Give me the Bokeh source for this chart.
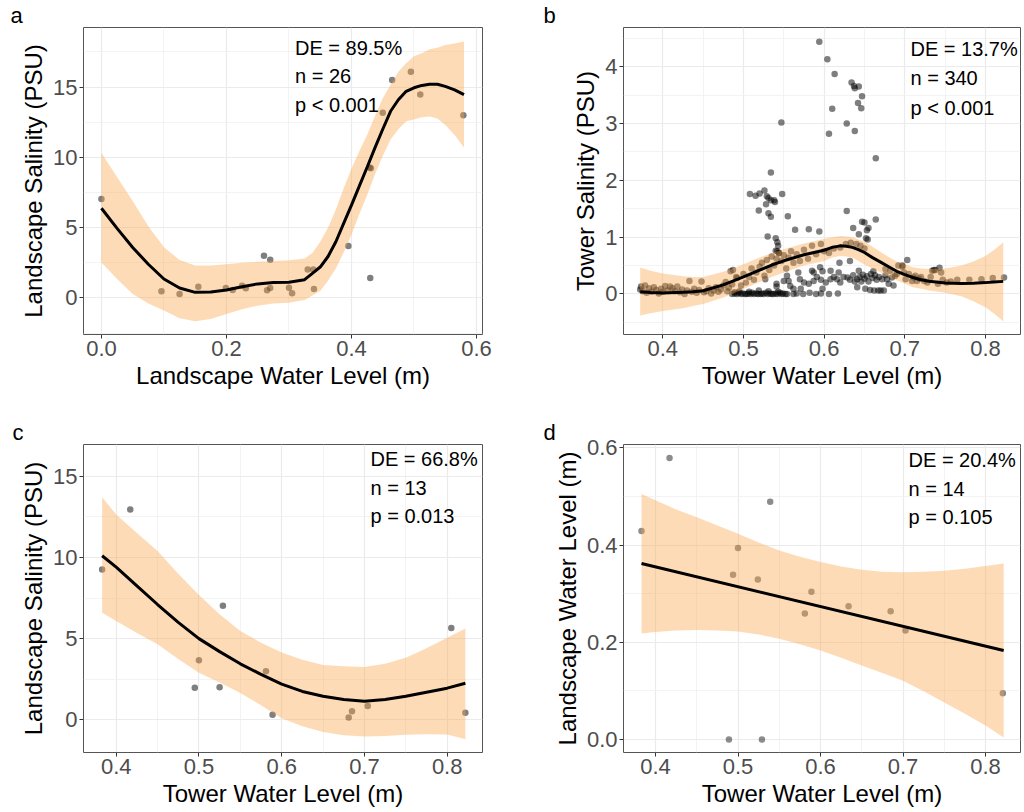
from bokeh.plotting import figure
from bokeh.layouts import gridplot
from bokeh.models import Range1d, FixedTicker, PrintfTickFormatter, Label
from bokeh.embed import file_html
from bokeh.resources import INLINE

FONT = "Liberation Sans"

# ---------------- Panel a ----------------
land_wl_a = [0.0, 0.096, 0.125, 0.155, 0.199, 0.210, 0.225, 0.231, 0.260, 0.265, 0.270, 0.270, 0.300,
             0.305, 0.330, 0.339, 0.340, 0.395, 0.429, 0.431, 0.430, 0.450, 0.465, 0.495, 0.510, 0.579]
land_sal_a = [7.04, 0.47, 0.28, 0.80, 0.71, 0.57, 0.87, 0.69, 3.00, 0.54, 2.72, 0.71, 0.73,
              0.33, 2.03, 2.03, 0.64, 3.69, 9.28, 9.22, 1.42, 13.18, 15.50, 16.09, 14.48, 12.99]
fit_x_a = [0.0, 0.025, 0.05, 0.075, 0.1, 0.125, 0.15, 0.175, 0.2, 0.225, 0.25, 0.275, 0.3, 0.325,
           0.3375, 0.35, 0.3625, 0.375, 0.3875, 0.4, 0.4125, 0.425, 0.4375, 0.45, 0.4625, 0.475,
           0.4875, 0.5, 0.5125, 0.525, 0.5375, 0.55, 0.565, 0.58]
fit_a = [6.38, 4.95, 3.59, 2.40, 1.35, 0.71, 0.40, 0.42, 0.57, 0.80, 1.00, 1.10, 1.11, 1.30,
         1.75, 2.20, 2.95, 4.00, 5.30, 6.60, 7.96, 9.30, 10.68, 12.0, 13.28, 14.1,
         14.7, 14.95, 15.12, 15.2, 15.2, 15.05, 14.8, 14.46]
upper_a = [10.32, 8.6, 6.9, 5.1, 3.6, 2.7, 2.3, 2.3, 2.4, 2.5, 2.57, 2.62, 2.69, 2.8,
           3.2, 4.0, 5.0, 6.3, 7.8, 9.2, 10.44, 11.6, 12.92, 14.2, 15.17, 16.1,
           16.7, 17.2, 17.4, 17.7, 17.8, 18.0, 18.1, 18.24]
lower_a = [2.53, 1.35, 0.28, -0.40, -0.9, -1.45, -1.65, -1.5, -1.15, -0.8, -0.55, -0.4, -0.35, -0.15,
           0.17, 0.5, 1.23, 2.1, 3.24, 4.5, 5.95, 7.3, 8.79, 10.1, 11.27, 12.0,
           12.57, 12.7, 12.85, 12.9, 12.76, 12.3, 11.6, 10.7]

# ---------------- Panel b ----------------
tower_wl_b = [
    0.372, 0.373, 0.375, 0.378, 0.380, 0.383, 0.386, 0.389, 0.392, 0.395, 0.398, 0.400, 0.403, 0.406, 0.409,
    0.412, 0.415, 0.418, 0.421, 0.424, 0.427, 0.430, 0.433, 0.436, 0.439, 0.442, 0.445, 0.448, 0.451, 0.454,
    0.457, 0.460, 0.463, 0.466, 0.469, 0.472, 0.475, 0.478, 0.480, 0.482, 0.484, 0.487, 0.486, 0.489, 0.491,
    0.486, 0.489, 0.492, 0.494, 0.497, 0.499, 0.502, 0.504, 0.506, 0.509, 0.511, 0.513, 0.516, 0.518, 0.521,
    0.523, 0.525, 0.528, 0.530, 0.533, 0.535, 0.537, 0.540, 0.542, 0.545, 0.547, 0.549, 0.552, 0.554,
    0.495, 0.507, 0.519, 0.531, 0.543,
    0.562, 0.566, 0.574, 0.582, 0.590, 0.596, 0.606, 0.617,
    0.492, 0.497, 0.500, 0.503, 0.507, 0.510, 0.513, 0.516, 0.520, 0.523, 0.526, 0.529, 0.532, 0.535, 0.538,
    0.541, 0.544, 0.547, 0.550, 0.553, 0.556, 0.559, 0.562, 0.566, 0.570, 0.575, 0.580, 0.585, 0.590, 0.596,
    0.600, 0.606, 0.612, 0.620, 0.627, 0.633, 0.640, 0.645, 0.650,
    0.508, 0.515, 0.520, 0.526, 0.529, 0.531, 0.534, 0.538, 0.539, 0.534, 0.548, 0.528, 0.519, 0.531, 0.534,
    0.555, 0.547,
    0.530, 0.540, 0.542, 0.543, 0.540, 0.542, 0.544,
    0.594, 0.604, 0.613, 0.610, 0.606, 0.628, 0.638, 0.634, 0.637, 0.638, 0.643, 0.647, 0.642, 0.646, 0.664,
    0.564, 0.581, 0.594, 0.628, 0.636, 0.643, 0.647, 0.650, 0.653, 0.655, 0.652, 0.654, 0.664, 0.619,
    0.527, 0.541, 0.541, 0.550, 0.554, 0.556, 0.558, 0.562, 0.568, 0.570, 0.571, 0.575, 0.581, 0.585, 0.587,
    0.587, 0.591, 0.595, 0.596, 0.598, 0.602, 0.608, 0.608, 0.612, 0.616, 0.618, 0.620, 0.624, 0.629, 0.632,
    0.636, 0.638, 0.641, 0.641, 0.644, 0.646, 0.648, 0.650, 0.651, 0.653, 0.655, 0.657, 0.658, 0.660, 0.662,
    0.663, 0.665, 0.667, 0.668, 0.670, 0.672, 0.674, 0.676, 0.678, 0.680, 0.684, 0.686, 0.688, 0.643, 0.661,
    0.632, 0.598,
    0.676, 0.682, 0.690, 0.692, 0.697, 0.697, 0.699, 0.701, 0.703, 0.705, 0.709, 0.711, 0.713, 0.715, 0.718,
    0.720, 0.724, 0.728, 0.732, 0.734, 0.736, 0.738, 0.741, 0.743, 0.745, 0.747, 0.752, 0.765, 0.780, 0.795,
    0.809, 0.823, 0.757,
]
tower_sal_b = [
    0.08, 0.13, 0.05, 0.15, 0.02, 0.10, 0.04, 0.12, 0.07, 0.01, 0.09, 0.04, 0.14, 0.06, 0.13,
    0.10, 0.05, 0.13, 0.03, 0.08, 0.00, 0.06, 0.23, 0.04, 0.09, 0.02, 0.07, 0.22, 0.03, 0.05,
    0.10, 0.01, 0.06, 0.12, 0.04, 0.08, 0.15, 0.21, 0.05, 0.11, 0.40, 0.42, 0.17, 0.03, 0.30,
    0.00, 0.01, 0.00, 0.02, 0.00, 0.01, 0.00, 0.00, 0.01, 0.00, 0.02, 0.00, 0.01, 0.00, 0.00,
    0.01, 0.00, 0.02, 0.00, 0.01, 0.00, 0.00, 0.01, 0.00, 0.02, 0.00, 0.01, 0.00, 0.00,
    0.05, 0.04, 0.06, 0.05, 0.04,
    0.00, 0.01, 0.00, 0.02, 0.00, 0.01, 0.00, 0.01,
    0.28, 0.15, 0.35, 0.20, 0.30, 0.45, 0.25, 0.38, 0.48, 0.55, 0.32, 0.60, 0.42, 0.66, 0.50,
    0.62, 0.72, 0.58, 0.68, 0.45, 0.64, 0.75, 0.55, 0.70, 0.58, 0.78, 0.62, 0.85, 0.70, 0.88,
    0.75, 0.72, 0.80, 0.82, 0.88, 0.90, 0.88, 0.85, 0.80,
    1.76, 1.73, 1.77, 1.82, 1.72, 1.69, 1.65, 1.65, 1.62, 2.14, 1.76, 1.58, 1.47, 1.42, 1.36,
    1.37, 3.02,
    1.01, 0.98, 0.91, 0.85, 0.76, 0.75, 0.72,
    4.44, 4.13, 3.87, 3.26, 2.82, 3.00, 2.87, 3.72, 3.66, 3.62, 3.65, 3.48, 3.36, 3.27, 2.39,
    1.13, 1.14, 1.10, 1.46, 1.16, 1.05, 1.27, 1.26, 1.12, 1.16, 0.98, 0.96, 1.31, 0.55,
    0.26, 0.18, 0.13, 0.23, 0.32, 0.23, 0.14, 0.09, 0.38, 0.26, 0.09, 0.20, 0.18, 0.41, 0.38,
    0.23, 0.30, 0.47, 0.25, 0.09, 0.20, 0.41, 0.26, 0.30, 0.26, 0.38, 0.20, 0.30, 0.29, 0.25,
    0.33, 0.22, 0.26, 0.12, 0.30, 0.22, 0.34, 0.27, 0.09, 0.31, 0.22, 0.07, 0.35, 0.28, 0.06,
    0.33, 0.25, 0.06, 0.30, 0.06, 0.26, 0.06, 0.33, 0.26, 0.18, 0.29, 0.15, 0.32, 0.41, 0.40,
    0.58, 0.40,
    0.44, 0.41, 0.35, 0.50, 0.48, 0.50, 0.38, 0.26, 0.60, 0.35, 0.23, 0.29, 0.32, 0.23, 0.27,
    0.30, 0.23, 0.20, 0.30, 0.41, 0.42, 0.42, 0.18, 0.46, 0.38, 0.25, 0.20, 0.25, 0.25, 0.26,
    0.28, 0.29, 0.22,
]
fit_x_b = [0.372, 0.385, 0.40, 0.425, 0.4375, 0.45, 0.475, 0.4875, 0.50, 0.52, 0.535, 0.55, 0.575,
           0.5875, 0.60, 0.61, 0.62, 0.6275, 0.635, 0.6425, 0.65, 0.66, 0.67, 0.68, 0.69, 0.70,
           0.71, 0.72, 0.73, 0.75, 0.77, 0.785, 0.80, 0.81, 0.822]
fit_b = [0.04, 0.025, 0.018, 0.03, 0.04, 0.058, 0.16, 0.23, 0.30, 0.42, 0.51, 0.584, 0.69,
         0.73, 0.77, 0.82, 0.847, 0.84, 0.82, 0.78, 0.73, 0.64, 0.56, 0.48, 0.40, 0.34,
         0.29, 0.25, 0.225, 0.195, 0.186, 0.19, 0.20, 0.21, 0.222]
upper_b = [0.467, 0.41, 0.36, 0.31, 0.30, 0.30, 0.39, 0.45, 0.525, 0.64, 0.72, 0.788, 0.89,
           0.93, 0.97, 1.0, 1.02, 1.01, 1.0, 0.96, 0.92, 0.83, 0.74, 0.65, 0.57, 0.52,
           0.47, 0.45, 0.44, 0.45, 0.50, 0.57, 0.67, 0.77, 0.905]
lower_b = [-0.38, -0.34, -0.30, -0.25, -0.21, -0.175, -0.06, 0.01, 0.088, 0.21, 0.30, 0.38, 0.50,
           0.54, 0.58, 0.64, 0.67, 0.66, 0.64, 0.58, 0.52, 0.45, 0.38, 0.31, 0.24, 0.18,
           0.12, 0.09, 0.06, 0.02, -0.04, -0.13, -0.235, -0.34, -0.48]

# ---------------- Panel c ----------------
tower_wl_c = [0.383, 0.417, 0.495, 0.500, 0.525, 0.529, 0.581, 0.589, 0.681, 0.685, 0.704, 0.805, 0.822]
land_sal_c = [9.26, 12.95, 1.97, 3.67, 2.01, 7.03, 2.99, 0.31, 0.14, 0.53, 0.86, 5.66, 0.43]
fit_x_c = [0.383, 0.40, 0.425, 0.45, 0.475, 0.50, 0.525, 0.55, 0.575, 0.60, 0.625, 0.65, 0.675,
           0.70, 0.725, 0.75, 0.775, 0.80, 0.822]
fit_c = [10.1, 9.4, 8.25, 7.1, 6.0, 5.0, 4.2, 3.45, 2.8, 2.2, 1.75, 1.45, 1.25,
         1.15, 1.25, 1.45, 1.7, 1.95, 2.25]
upper_c = [13.7, 12.64, 11.5, 10.4, 9.0, 7.68, 6.5, 5.47, 4.75, 4.14, 3.7, 3.38, 3.3,
           3.26, 3.45, 3.83, 4.4, 5.06, 5.63]
lower_c = [6.6, 6.09, 5.35, 4.65, 3.75, 2.9, 2.3, 1.65, 0.9, 0.1, -0.4, -0.75, -0.95,
           -1.02, -1.0, -0.92, -0.88, -0.9, -1.19]

# ---------------- Panel d ----------------
tower_wl_d = [0.383, 0.417, 0.489, 0.494, 0.500, 0.524, 0.529, 0.539, 0.581, 0.589, 0.634, 0.685, 0.703, 0.821]
land_wl_d = [0.429, 0.579, 0.0, 0.339, 0.394, 0.329, 0.0, 0.489, 0.259, 0.304, 0.274, 0.264, 0.224, 0.095]
fit_line_x_d = [0.383, 0.822]
fit_line_d = [0.362, 0.183]
band_x_d = [0.383, 0.40, 0.425, 0.45, 0.475, 0.50, 0.525, 0.55, 0.575, 0.60, 0.625, 0.65, 0.675,
            0.70, 0.725, 0.75, 0.775, 0.80, 0.822]
upper_d = [0.505, 0.492, 0.473, 0.457, 0.44, 0.423, 0.405, 0.389, 0.376, 0.365, 0.356, 0.349, 0.345,
           0.344, 0.345, 0.347, 0.351, 0.357, 0.362]
lower_d = [0.218, 0.221, 0.224, 0.225, 0.224, 0.222, 0.216, 0.207, 0.196, 0.183, 0.168, 0.152, 0.137,
           0.121, 0.099, 0.076, 0.053, 0.029, 0.004]

# annotations
stats_a = ["DE = 89.5%", "n = 26", "p < 0.001"]
stats_b = ["DE = 13.7%", "n = 340", "p < 0.001"]
stats_c = ["DE = 66.8%", "n = 13", "p = 0.013"]
stats_d = ["DE = 20.4%", "n = 14", "p = 0.105"]

RIBBON = "#F9A64A"


def panel(w, h, xr, yr, borders, xt, xm, yt, ym, xfmt, yfmt, xlab, ylab, tag, tag_offset):
    left, right, top, bottom = borders
    p = figure(width=w, height=h, x_range=Range1d(*xr), y_range=Range1d(*yr),
               output_backend="svg", toolbar_location=None,
               min_border_left=left, min_border_right=right,
               min_border_top=top, min_border_bottom=bottom)
    p.background_fill_color = "white"
    p.border_fill_color = "white"
    p.outline_line_color = "#555555"
    p.outline_line_width = 1
    p.title.text = tag
    p.title.text_font = FONT
    p.title.text_font_size = "22px"
    p.title.text_font_style = "normal"
    p.title.text_color = "black"
    p.title.align = "left"
    p.title.offset = tag_offset
    p.title.standoff = 0
    xtick = FixedTicker(ticks=xt, minor_ticks=xm)
    ytick = FixedTicker(ticks=yt, minor_ticks=ym)
    p.xaxis.ticker = xtick
    p.yaxis.ticker = ytick
    p.xgrid.ticker = xtick
    p.ygrid.ticker = ytick
    p.xaxis.formatter = PrintfTickFormatter(format=xfmt)
    p.yaxis.formatter = PrintfTickFormatter(format=yfmt)
    for g in (p.xgrid[0], p.ygrid[0]):
        g.grid_line_color = "#EBEBEB"
        g.grid_line_width = 1.2
        g.minor_grid_line_color = "#F0F0F0"
        g.minor_grid_line_width = 0.8
    for ax in (p.xaxis[0], p.yaxis[0]):
        ax.axis_line_color = None
        ax.major_tick_line_color = "#333333"
        ax.major_tick_out = 4
        ax.major_tick_in = 0
        ax.minor_tick_line_color = None
        ax.major_label_text_font = FONT
        ax.major_label_text_font_size = "22px"
        ax.major_label_text_color = "#4D4D4D"
        ax.axis_label_text_font = FONT
        ax.axis_label_text_font_size = "24px"
        ax.axis_label_text_color = "black"
        ax.axis_label_text_font_style = "normal"
        ax.major_label_standoff = 2
        ax.axis_label_standoff = 3
    p.xaxis.axis_label = xlab
    p.yaxis.axis_label = ylab
    return p


def layers(p, px, py, bx, up, lo, fx, fy, alpha=0.5):
    p.scatter(px, py, size=6.5, fill_color="black", fill_alpha=alpha, line_color=None)
    p.varea(x=bx, y1=lo, y2=up, fill_color=RIBBON, fill_alpha=0.4)
    p.line(fx, fy, line_color="black", line_width=3)


def stats(p, x, ys, texts):
    for y, t in zip(ys, texts):
        p.add_layout(Label(x=x, y=y, text=t, text_font=FONT, text_font_size="20px",
                           text_baseline="middle", text_align="left", text_color="black"))


pa = panel(540, 392, (-0.0287, 0.6096), (-2.6, 19.24), (83, 58, 26, 58),
           [0, 0.2, 0.4, 0.6], [0.1, 0.3, 0.5], [0, 5, 10, 15], [-2.5, 2.5, 7.5, 12.5, 17.5],
           "%.1f", "%d", "Landscape Water Level (m)", "Landscape Salinity (PSU)", "a", -73)
layers(pa, land_wl_a, land_sal_a, fit_x_a, upper_a, lower_a, fit_x_a, fit_a)
stats(pa, 0.3096, [17.77, 15.76, 13.71], stats_a)

pb = panel(484, 392, (0.3513, 0.8434), (-0.713, 4.69), (83, 4, 26, 58),
           [0.4, 0.5, 0.6, 0.7, 0.8], [0.35, 0.45, 0.55, 0.65, 0.75, 0.85],
           [0, 1, 2, 3, 4], [-0.5, 0.5, 1.5, 2.5, 3.5, 4.5],
           "%.1f", "%d", "Tower Water Level (m)", "Tower Salinity (PSU)", "b", -80)
layers(pb, tower_wl_b, tower_sal_b, fit_x_b, upper_b, lower_b, fit_x_b, fit_b)
stats(pb, 0.707, [4.303, 3.795, 3.281], stats_b)

pc = panel(540, 420, (0.3605, 0.8427), (-2.01, 16.95), (83, 58, 51, 60),
           [0.4, 0.5, 0.6, 0.7, 0.8], [0.45, 0.55, 0.65, 0.75],
           [0, 5, 10, 15], [-2.5, 2.5, 7.5, 12.5],
           "%.1f", "%d", "Tower Water Level (m)", "Landscape Salinity (PSU)", "c", -71)
layers(pc, tower_wl_c, land_sal_c, fit_x_c, upper_c, lower_c, fit_x_c, fit_c)
stats(pc, 0.7073, [16.06, 14.28, 12.54], stats_c)

pd = panel(484, 420, (0.3612, 0.8424), (-0.0268, 0.6068), (83, 4, 52, 60),
           [0.4, 0.5, 0.6, 0.7, 0.8], [0.45, 0.55, 0.65, 0.75],
           [0, 0.2, 0.4, 0.6], [0.1, 0.3, 0.5],
           "%.1f", "%.1f", "Tower Water Level (m)", "Landscape Water Level (m)", "d", -80)
layers(pd, tower_wl_d, land_wl_d, band_x_d, upper_d, lower_d, fit_line_x_d, fit_line_d, alpha=0.45)
stats(pd, 0.7067, [0.574, 0.5157, 0.4572], stats_d)

grid = gridplot([[pa, pb], [pc, pd]], toolbar_location=None)
open("out.html", "w").write(file_html(grid, INLINE))
